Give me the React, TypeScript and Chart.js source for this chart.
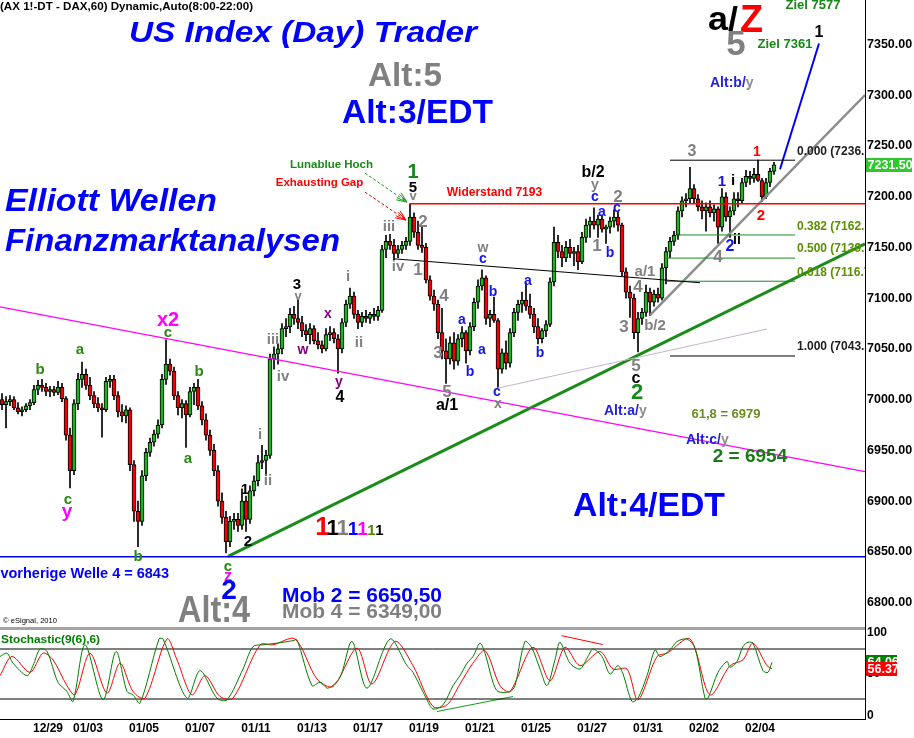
import React, { useEffect, useRef } from 'react';
import { Chart, registerables } from 'chart.js';

Chart.register(...registerables);

const FONT = '"Liberation Sans", Arial, Helvetica, sans-serif';

// ---------- x axis (trading-hour index, hourly bars 8:00-22:00, counted from 27 Dec 12:00) ----------
const dateLabels = ['12/29', '01/03', '01/05', '01/07', '01/11', '01/13', '01/17', '01/19', '01/21', '01/25', '01/27', '01/31', '02/02', '02/04'];
const dateHours = [24, 44, 72, 100, 128, 156, 184, 212, 240, 268, 296, 324, 352, 380];
const HOUR_MAX = 432.5;

// ---------- y axes ----------
const PRICE_MIN = 6773.9;
const PRICE_MAX = 7393.9;
const priceTicks = [6800, 6850, 6900, 6950, 7000, 7050, 7100, 7150, 7200, 7250, 7300, 7350];
const STOCH_MIN = -4;
const STOCH_MAX = 104;
const stochTicks = [0, 50, 100];

// ---------- 2-hour candles (FDAX) ----------
const opens = [
  7000, 6995, 6998, 7000, 6992, 6988, 6990, 6994, 6997, 7010,
  7014, 7012, 7008, 7010, 7007, 7012, 7001, 6965, 6930, 6996,
  7020, 7025, 7014, 7004, 6996, 6992, 6990, 7018, 7020, 7004,
  6988, 6984, 6990, 6936, 6890, 6880, 6925, 6948, 6958, 6966,
  6975, 7020, 7035, 7028, 7004, 6992, 6996, 6985, 7008, 7012,
  6994, 6980, 6965, 6950, 6930, 6900, 6884, 6860, 6880, 6882,
  6876, 6900, 6882, 6910, 6920, 6938, 6940, 6945, 7040, 7045,
  7050, 7070, 7072, 7084, 7080, 7076, 7068, 7064, 7070, 7058,
  7054, 7050, 7064, 7066, 7060, 7050, 7076, 7094, 7102, 7084,
  7076, 7082, 7080, 7084, 7082, 7088, 7148, 7156, 7152, 7144,
  7148, 7152, 7156, 7180, 7165, 7152, 7150, 7118, 7102, 7094,
  7066, 7048, 7040, 7056, 7038, 7060, 7066, 7048, 7072, 7096,
  7112, 7120, 7080, 7084, 7078, 7030, 7046, 7036, 7066, 7086,
  7094, 7098, 7092, 7084, 7072, 7060, 7068, 7074, 7116, 7155,
  7146, 7140, 7150, 7144, 7146, 7136, 7160, 7172, 7176, 7172,
  7178, 7168, 7170, 7176, 7180, 7172, 7126, 7106, 7100, 7066,
  7080, 7086, 7106, 7096, 7104, 7100, 7130, 7146, 7156, 7162,
  7186, 7196, 7198, 7208, 7198, 7190, 7186, 7190, 7184, 7188,
  7170, 7200, 7180, 7186, 7198, 7196, 7214, 7220, 7218, 7222,
  7216, 7200, 7214, 7225,
];
const highs = [
  7006, 7003, 7004, 7003, 6997, 6993, 6996, 7000, 7014, 7019,
  7020, 7016, 7013, 7013, 7018, 7016, 7003, 6972, 7000, 7026,
  7037, 7030, 7022, 7008, 7002, 6996, 7022, 7024, 7024, 7008,
  6995, 6994, 6992, 6940, 6900, 6930, 6952, 6962, 6970, 6980,
  7025, 7059, 7040, 7032, 7008, 7000, 6999, 7012, 7016, 7020,
  6998, 6986, 6970, 6956, 6935, 6908, 6890, 6885, 6888, 6888,
  6912, 6905, 6915, 6925, 6945, 6955, 6950, 7045, 7052, 7055,
  7075, 7080, 7090, 7092, 7098, 7082, 7074, 7075, 7073, 7066,
  7058, 7070, 7072, 7070, 7064, 7080, 7098, 7110, 7106, 7088,
  7086, 7088, 7086, 7090, 7092, 7152, 7162, 7163, 7158, 7152,
  7156, 7160, 7193, 7184, 7176, 7170, 7154, 7122, 7108, 7098,
  7090, 7060, 7062, 7066, 7064, 7072, 7068, 7076, 7100, 7118,
  7128, 7122, 7088, 7101, 7080, 7050, 7058, 7070, 7090, 7098,
  7106, 7115, 7104, 7090, 7080, 7070, 7078, 7120, 7170, 7162,
  7152, 7156, 7158, 7150, 7152, 7165, 7178, 7180, 7189, 7182,
  7182, 7172, 7180, 7187, 7185, 7174, 7130, 7112, 7104, 7086,
  7090, 7113, 7110, 7108, 7110, 7134, 7150, 7160, 7166, 7190,
  7200, 7203, 7229, 7212, 7202, 7196, 7194, 7196, 7192, 7190,
  7208, 7204, 7190, 7204, 7204, 7218, 7226, 7225, 7228, 7236,
  7218, 7218, 7228, 7234,
];
const lows = [
  6990, 6972, 6994, 6990, 6986, 6984, 6988, 6990, 6995, 7005,
  7008, 7004, 7003, 7004, 7005, 6998, 6960, 6913, 6926, 6990,
  7012, 7010, 7000, 6992, 6988, 6963, 6988, 7012, 7000, 6983,
  6978, 6977, 6930, 6880, 6855, 6876, 6920, 6944, 6954, 6962,
  6972, 7015, 7024, 7000, 6985, 6982, 6953, 6983, 6995, 6990,
  6975, 6960, 6945, 6925, 6895, 6878, 6849, 6855, 6872, 6870,
  6872, 6870, 6878, 6905, 6915, 6932, 6925, 6942, 7030, 7035,
  7045, 7062, 7066, 7074, 7070, 7062, 7058, 7055, 7055, 7050,
  7046, 7048, 7058, 7056, 7026, 7046, 7072, 7090, 7080, 7070,
  7072, 7076, 7075, 7078, 7078, 7086, 7140, 7148, 7138, 7140,
  7144, 7148, 7152, 7160, 7148, 7145, 7115, 7098, 7088, 7060,
  7040, 7016, 7035, 7030, 7034, 7052, 7036, 7044, 7068, 7090,
  7108, 7074, 7072, 7076, 7012, 7026, 7030, 7032, 7062, 7078,
  7086, 7088, 7080, 7066, 7055, 7056, 7062, 7072, 7112, 7140,
  7131, 7136, 7140, 7132, 7128, 7134, 7155, 7160, 7168, 7160,
  7165, 7154, 7164, 7170, 7166, 7122, 7100, 7081, 7060, 7047,
  7074, 7082, 7083, 7092, 7096, 7098, 7114, 7140, 7152, 7158,
  7180, 7190, 7194, 7194, 7186, 7178, 7166, 7180, 7176, 7154,
  7166, 7176, 7160, 7182, 7190, 7194, 7210, 7212, 7214, 7215,
  7195, 7198, 7210, 7222,
];
const closes = [
  6995, 6998, 7000, 6992, 6988, 6990, 6994, 6997, 7010, 7014,
  7012, 7008, 7010, 7007, 7012, 7001, 6965, 6930, 6996, 7020,
  7025, 7014, 7004, 6996, 6992, 6990, 7018, 7020, 7004, 6988,
  6984, 6990, 6936, 6890, 6880, 6925, 6948, 6958, 6966, 6975,
  7020, 7035, 7028, 7004, 6992, 6996, 6985, 7008, 7012, 6994,
  6980, 6965, 6950, 6930, 6900, 6884, 6860, 6880, 6882, 6876,
  6900, 6882, 6910, 6920, 6938, 6940, 6945, 7040, 7045, 7050,
  7070, 7072, 7084, 7080, 7076, 7068, 7064, 7070, 7058, 7054,
  7050, 7064, 7066, 7060, 7050, 7076, 7094, 7102, 7084, 7076,
  7082, 7080, 7084, 7082, 7088, 7148, 7156, 7152, 7144, 7148,
  7152, 7156, 7180, 7165, 7152, 7150, 7118, 7102, 7094, 7066,
  7048, 7040, 7056, 7038, 7060, 7066, 7048, 7072, 7096, 7112,
  7120, 7080, 7084, 7078, 7030, 7046, 7036, 7066, 7086, 7094,
  7098, 7092, 7084, 7072, 7060, 7068, 7074, 7116, 7155, 7146,
  7140, 7150, 7144, 7146, 7136, 7160, 7172, 7176, 7172, 7178,
  7168, 7170, 7176, 7180, 7172, 7126, 7106, 7100, 7066, 7080,
  7086, 7106, 7096, 7104, 7100, 7130, 7146, 7156, 7162, 7186,
  7196, 7198, 7208, 7198, 7190, 7186, 7190, 7184, 7188, 7170,
  7200, 7180, 7186, 7198, 7196, 7214, 7220, 7218, 7222, 7216,
  7200, 7214, 7225, 7231.5,
];

// ---------- Stochastic(9(6),6) ----------
const stochKHours = [
  0, 3.5, 6.5, 13.5, 16.5, 20, 23.5, 29, 33.5, 36.5,
  42.5, 51.5, 58, 63.5, 66.5, 70, 79.5, 81.5, 93.5, 100,
  108.5, 113.5, 121.5, 126.5, 131.5, 138.5, 146.5, 148.5, 156, 160,
  164, 170, 176, 183.5, 195, 203.5, 206.5, 213.5, 216.5, 221.5,
  226.5, 230, 233.5, 236.5, 240, 242.5, 246.5, 249, 255, 257.5,
  262.5, 266, 270, 273.5, 277.5, 280, 285, 290, 294, 296.5,
  301, 305, 309, 311.5, 316, 319, 323.5, 327.5, 330, 335,
  338.5, 343.5, 347.5, 352.5, 354, 359, 363.5, 365, 368.5, 371.5,
  374, 376.5, 381.5, 384, 386,
];
const stochK = [
  71, 75, 63, 48, 60, 80, 77, 40, 29, 17,
  85, 19, 77, 29, 25, 15, 92, 92, 21, 54,
  21, 19, 56, 83, 85, 87, 90, 91, 36, 40,
  33, 46, 89, 33, 92, 60, 52, 19, 8, 13,
  36, 48, 63, 71, 87, 75, 40, 29, 29, 36,
  89, 81, 56, 36, 67, 88, 63, 56, 71, 80,
  71, 50, 60, 50, 17, 21, 48, 79, 71, 79,
  89, 92, 81, 21, 21, 52, 65, 58, 65, 83,
  88, 87, 54, 52, 64.06,
];
const stochDHours = [
  0, 6, 15, 21.5, 26.5, 33.5, 37.5, 45, 53.5, 60,
  66.5, 72.5, 83.5, 88.5, 96, 102.5, 110, 116.5, 130, 136.5,
  147.5, 158.5, 166.5, 178.5, 186, 197.5, 206.5, 216.5, 223.5, 230,
  236.5, 242.5, 250, 255, 266.5, 275, 282.5, 290, 300, 306.5,
  313.5, 319, 328.5, 333.5, 345, 355, 365, 371.5, 376.5, 383.5,
  386,
];
const stochD = [
  48, 71, 52, 75, 67, 36, 25, 75, 27, 63,
  29, 21, 92, 67, 25, 48, 23, 21, 85, 85,
  92, 44, 35, 81, 38, 89, 60, 11, 13, 38,
  63, 78, 36, 29, 82, 42, 82, 60, 77, 56,
  56, 19, 71, 75, 92, 25, 60, 67, 87, 60,
  56.37,
];
const stochUpper = [[0, 80], [HOUR_MAX, 80]];
const stochLower = [[0, 20], [HOUR_MAX, 20]];
const stochGreenDiv = [[218.5, 5], [256.5, 23]];
const stochRedDiv = [[280.8, 96], [301.3, 85.4]];

// ---------- drawn lines (hour, price) ----------
const prevWave4Line = [[0, 6845], [HOUR_MAX, 6845]];
const magentaLine = [[0, 7091.5], [HOUR_MAX, 6929]];
const resistanceLine = [[205, 7193], [HOUR_MAX, 7193]];
const necklineLine = [[197.5, 7138.7], [350, 7115.2]];
const lightLine = [[249, 7011.4], [383.5, 7069.6]];
const greenTrend = [[114, 6845.5], [HOUR_MAX, 7153.5]];
const grayTrend = [[325, 7083.4], [HOUR_MAX, 7300.2]];
const blueTrend = [[390, 7227], [409.5, 7351]];
const fib000 = [[335, 7236], [397.5, 7236]];
const fib382 = [[339, 7162.3], [397.5, 7162.3]];
const fib500 = [[333.5, 7139.5], [397.5, 7139.5]];
const fib618 = [[333.5, 7116.7], [397.5, 7116.7]];
const fib100 = [[335, 7043], [397.5, 7043]];
const greenArrow = [[182.5, 7223.3], [203.5, 7194.7]];
const redArrow = [[182.5, 7204.6], [203, 7177]];

// ---------- annotation texts ----------
const COL: Record<string, string> = {
  G: '#2a8a10', DG: '#148a14', K: '#000000', GR: '#808080', B: '#1414e6',
  BB: '#0000ff', P: '#800080', M: '#ff00ff', R: '#ff0000',
};
// [text, hour, price, colour, size]
const waveLabels: [string, number, number, string, number][] = [
  ['b', 20, 7029, 'G', 15], ['a', 40, 7049, 'G', 15], ['c', 34, 6901, 'G', 15], ['y', 33.5, 6889, 'M', 19],
  ['x2', 84, 7078, 'M', 20], ['c', 84, 7066, 'G', 15], ['b', 69, 6845, 'G', 15], ['a', 94, 6942, 'G', 15],
  ['b', 99.5, 7027, 'G', 15], ['c', 114, 6835, 'G', 15], ['z', 114, 6826, 'M', 16], ['2', 114.5, 6811, 'BB', 28],
  ['1', 122.5, 6911, 'K', 15], ['2', 124, 6860, 'K', 15], ['i', 130, 6965, 'GR', 15], ['ii', 134, 6920, 'GR', 15],
  ['iii', 136.5, 7059, 'GR', 15], ['iv', 141.5, 7022, 'GR', 15], ['3', 148.5, 7113, 'K', 15], ['v', 149, 7102, 'GR', 13],
  ['w', 151.5, 7049, 'P', 14], ['x', 164, 7084, 'P', 14], ['y', 169.5, 7017, 'P', 14], ['4', 170, 7002, 'K', 16],
  ['i', 174, 7121, 'GR', 15], ['ii', 179.5, 7056, 'GR', 15], ['iii', 194.5, 7170, 'GR', 15], ['iv', 199, 7131, 'GR', 15],
  ['1', 206.5, 7224, 'DG', 20], ['5', 206.5, 7209, 'K', 15], ['v', 206.5, 7200, 'GR', 13], ['2', 211.5, 7175, 'GR', 17],
  ['1', 209, 7127, 'GR', 17], ['4', 222, 7102, 'GR', 17], ['3', 219, 7046, 'GR', 17], ['5', 223.5, 7007, 'GR', 17],
  ['a/1', 223.5, 6994.5, 'K', 16], ['a', 231, 7078, 'B', 14], ['b', 235, 7027, 'B', 14], ['a', 241, 7049, 'B', 14],
  ['w', 241.5, 7149, 'GR', 14], ['c', 241.5, 7138.5, 'B', 14], ['b', 246.5, 7106, 'B', 14], ['c', 248.5, 7007, 'B', 14],
  ['x', 249, 6996, 'GR', 14], ['a', 264, 7117, 'B', 14], ['b', 270, 7046, 'B', 14], ['b/2', 296.5, 7224, 'K', 16],
  ['y', 297.5, 7211, 'GR', 14], ['c', 297.5, 7200, 'B', 14], ['1', 298.5, 7151, 'GR', 17], ['a', 301, 7185, 'B', 14],
  ['b', 305, 7144, 'B', 14], ['c', 308.5, 7189, 'B', 14], ['2', 309, 7199, 'GR', 17], ['3', 312, 7071, 'GR', 17],
  ['4', 319, 7111, 'GR', 17], ['a/1', 322.5, 7126, 'GR', 15], ['b/2', 327.5, 7073, 'GR', 15], ['5', 318, 7033, 'GR', 17],
  ['c', 318, 7021, 'K', 16], ['2', 318.5, 7007, 'DG', 22], ['3', 346, 7244, 'GR', 16], ['1', 361, 7214.5, 'B', 15],
  ['i', 366.5, 7215.5, 'K', 15], ['2', 365, 7150.5, 'B', 16], ['ii', 368.5, 7157, 'K', 14], ['4', 359, 7140.5, 'GR', 17],
  ['1', 378.5, 7244, 'R', 14], ['2', 380.5, 7181, 'R', 15], ['1', 409.5, 7362, 'K', 16],
];
// [text, hour, price, font, colour, align]
const priceTexts: [string, number, number, string, string, CanvasTextAlign][] = [
  ['Widerstand 7193', 247.25, 7203.6, 'bold 12px', '#ff0000', 'center'],
  ['Lunablue Hoch', 165.75, 7231, 'bold 11.5px', '#1a8a1a', 'center'],
  ['Exhausting Gap', 159.75, 7213.5, 'bold 11.5px', '#ff0000', 'center'],
  ['61,8 = 6979', 363, 6985, 'bold 13px', '#6b8e23', 'center'],
  ['2 = 6954', 375, 6943.5, 'bold 19px', '#1a7a1a', 'center'],
  ['0.000 (7236.00)', 398.5, 7244, 'bold 12px', '#202020', 'left'],
  ['0.382 (7162.27)', 398.5, 7170, 'bold 12px', '#5a9000', 'left'],
  ['0.500 (7139.50)', 398.5, 7148.4, 'bold 12px', '#5a9000', 'left'],
  ['0.618 (7116.73)', 398.5, 7124.8, 'bold 12px', '#5a9000', 'left'],
  ['1.000 (7043.00)', 398.5, 7051.8, 'bold 12px', '#202020', 'left'],
];

type PT = { t: string; x: number; y: number; f: string; c: string; a?: CanvasTextAlign; b?: CanvasTextBaseline; w?: number };
const pixelTexts: PT[] = [
  { t: '(AX 1!-DT - DAX,60) Dynamic,Auto(8:00-22:00)', x: 0, y: 7, f: 'bold 11.5px', c: '#000', a: 'left', w: 253 },
  { t: 'US Index (Day) Trader', x: 303, y: 42, f: 'italic bold 30px', c: '#0000ff', b: 'alphabetic', w: 348 },
  { t: 'Alt:5', x: 405, y: 86, f: 'bold 34px', c: '#808080', b: 'alphabetic', w: 74 },
  { t: 'Alt:3/EDT', x: 417.5, y: 123, f: 'bold 34px', c: '#0000ff', b: 'alphabetic', w: 151 },
  { t: 'Elliott Wellen', x: 5, y: 211, f: 'italic bold 32px', c: '#0000ff', a: 'left', b: 'alphabetic', w: 212 },
  { t: 'Finanzmarktanalysen', x: 5, y: 251, f: 'italic bold 32px', c: '#0000ff', a: 'left', b: 'alphabetic', w: 335 },
  { t: 'a/', x: 708, y: 30, f: 'bold 34px', c: '#000', a: 'left', b: 'alphabetic', w: 30 },
  { t: 'Z', x: 740, y: 31.5, f: 'bold 38px', c: '#ff0000', a: 'left', b: 'alphabetic', w: 23 },
  { t: '5', x: 736, y: 55, f: 'bold 35px', c: '#808080', b: 'alphabetic' },
  { t: 'Ziel 7577', x: 813, y: 9, f: 'bold 13px', c: '#168816', b: 'alphabetic' },
  { t: 'Ziel 7361', x: 785, y: 47.5, f: 'bold 13px', c: '#168816', b: 'alphabetic' },
  { t: 'Alt:4/EDT', x: 649, y: 516, f: 'bold 34px', c: '#0000ff', b: 'alphabetic', w: 152 },
  { t: 'Alt:4', x: 214, y: 622, f: 'bold 36px', c: '#808080', b: 'alphabetic', w: 72 },
  { t: 'Mob 2 = 6650,50', x: 282, y: 601.5, f: 'bold 21px', c: '#0000ff', a: 'left', b: 'alphabetic', w: 160 },
  { t: 'Mob 4 = 6349,00', x: 282, y: 618, f: 'bold 21px', c: '#808080', a: 'left', b: 'alphabetic', w: 160 },
  { t: 'vorherige Welle 4 = 6843', x: 169, y: 578, f: 'bold 14.5px', c: '#0000ff', a: 'right', b: 'alphabetic' },
  { t: '\u00a9 eSignal, 2010', x: 3, y: 621, f: '8px', c: '#000', a: 'left', w: 54 },
  { t: 'Stochastic(9(6),6)', x: 1, y: 640, f: 'bold 11.5px', c: '#008000', a: 'left', w: 99 },
];
// [blue part, gray part, left x, baseline y]
const altTexts: [string, string, number, number][] = [
  ['Alt:b/', 'y', 710, 87], ['Alt:a/', 'y', 604, 414.5], ['Alt:c/', 'y', 686, 444],
];
// [centre x, size, colour]
const onesRow: [number, number, string][] = [
  [322.5, 26, '#ff0000'], [332.5, 22, '#000'], [342.5, 22, '#808080'], [353, 19, '#0000ff'],
  [362.5, 19, '#ff00ff'], [371.5, 15, '#4a8a00'], [379.5, 15, '#000'],
];

function drawText(ctx: CanvasRenderingContext2D, t: string, x: number, y: number, f: string, color: string,
  align: CanvasTextAlign = 'center', base: CanvasTextBaseline = 'middle', w?: number) {
  ctx.save();
  ctx.font = `${f} ${FONT}`;
  ctx.fillStyle = color;
  ctx.textAlign = align;
  ctx.textBaseline = base;
  ctx.translate(x, y);
  if (w) {
    const m = ctx.measureText(t).width;
    if (m > 0) ctx.scale(w / m, 1);
  }
  ctx.fillText(t, 0, 0);
  ctx.restore();
}

const overlay = {
  id: 'overlay',
  beforeDraw(chart: any) {
    const c = chart.ctx;
    c.save();
    c.fillStyle = '#ffffff';
    c.fillRect(0, 0, chart.width, chart.height);
    c.restore();
  },
  afterDatasetsDraw(chart: any) {
    const ctx: CanvasRenderingContext2D = chart.ctx;
    const xs = chart.scales.x;
    const ys = chart.scales.y;
    const area = chart.chartArea;
    const X = (h: number) => xs.getPixelForValue(h);
    const Y = (p: number) => ys.getPixelForValue(p);

    // pane separator
    ctx.save();
    ctx.fillStyle = '#a4a4a4';
    ctx.fillRect(area.left, ys.bottom - 2, area.right - area.left, 3);
    ctx.restore();

    ctx.save();
    ctx.beginPath();
    ctx.rect(area.left, area.top, area.right - area.left, ys.bottom - 2 - area.top);
    ctx.clip();

    const arrow = (pts: number[][], color: string) => {
      const x1 = X(pts[0][0]), y1 = Y(pts[0][1]), x2 = X(pts[1][0]), y2 = Y(pts[1][1]);
      ctx.save();
      ctx.strokeStyle = color;
      ctx.lineWidth = 1;
      ctx.setLineDash([3, 2]);
      ctx.beginPath(); ctx.moveTo(x1, y1); ctx.lineTo(x2, y2); ctx.stroke();
      ctx.setLineDash([]);
      const a = Math.atan2(y2 - y1, x2 - x1);
      for (const d of [-0.4, -0.2, 0.2, 0.4]) {
        ctx.beginPath();
        ctx.moveTo(x2, y2);
        ctx.lineTo(x2 - 11 * Math.cos(a + d), y2 - 11 * Math.sin(a + d));
        ctx.stroke();
      }
      ctx.restore();
    };
    arrow(greenArrow, '#1a9a1a');
    arrow(redArrow, '#ff0000');

    for (const [t, h, p, f, c, al] of priceTexts) drawText(ctx, t, X(h), Y(p), f, c, al);
    for (const [t, h, p, c, s] of waveLabels) drawText(ctx, t, X(h), Y(p), `bold ${s}px`, COL[c]);
    ctx.restore();

    for (const p of pixelTexts) drawText(ctx, p.t, p.x, p.y, p.f, p.c, p.a || 'center', p.b || 'middle', p.w);
    for (const [a, b, x, y] of altTexts) {
      ctx.save();
      ctx.font = `bold 14px ${FONT}`;
      const wa = ctx.measureText(a).width;
      ctx.restore();
      drawText(ctx, a, x, y, 'bold 14px', '#2222dd', 'left', 'alphabetic');
      drawText(ctx, b, x + wa, y, 'bold 14px', '#8c8c8c', 'left', 'alphabetic');
    }
    for (const [x, s, c] of onesRow) drawText(ctx, '1', x, 535, `bold ${s}px`, c, 'center', 'alphabetic');
  },
  afterDraw(chart: any) {
    const ctx: CanvasRenderingContext2D = chart.ctx;
    const ys = chart.scales.y;
    const ss = chart.scales.ys;
    const x0 = chart.chartArea.right + 1;
    const tag = (y: number, txt: string, bg: string, w: number) => {
      ctx.save();
      ctx.fillStyle = bg;
      ctx.fillRect(x0, Math.round(y) - 7, w, 14);
      ctx.fillStyle = '#ffffff';
      ctx.font = `bold 12.5px ${FONT}`;
      ctx.textAlign = 'left';
      ctx.textBaseline = 'middle';
      ctx.fillText(txt, x0 + 1.5, Math.round(y) + 0.5);
      ctx.restore();
    };
    const lastClose = closes[closes.length - 1];
    tag(ys.getPixelForValue(lastClose), lastClose.toFixed(2), '#2ec82e', 46);
    const k = stochK[stochK.length - 1];
    const d = stochD[stochD.length - 1];
    tag(ss.getPixelForValue(k), k.toFixed(2), '#008000', 31);
    tag(ss.getPixelForValue(d), d.toFixed(2), '#ff0000', 31);
  },
};

const toPts = (a: number[][]) => a.map(([x, y]) => ({ x, y }));
const lineDs = (a: number[][], color: string, width: number, axis = 'y') => ({
  type: 'line' as const,
  data: toPts(a),
  borderColor: color,
  borderWidth: width,
  pointRadius: 0,
  fill: false,
  tension: 0,
  yAxisID: axis,
  order: -1,
});

function buildConfig(): any {
  const candleX = closes.map((_, i) => 2 * i + 1);
  const bodyColors = closes.map((c, i) => (c >= opens[i] ? '#1cb41c' : '#f00000'));
  const axisFont = { family: FONT, size: 12.5, weight: 'bold' as const };
  return {
    type: 'bar',
    data: {
      datasets: [
        {
          type: 'bar', label: 'body',
          data: candleX.map((x, i) => ({ x, y: [opens[i], closes[i]] })),
          backgroundColor: bodyColors, borderColor: '#000', borderWidth: 1, borderSkipped: false,
          barThickness: 4, grouped: false, yAxisID: 'y', order: 1,
        },
        {
          type: 'bar', label: 'wick',
          data: candleX.map((x, i) => ({ x, y: [lows[i], highs[i]] })),
          backgroundColor: '#000', borderWidth: 0, barThickness: 1, grouped: false, yAxisID: 'y', order: 2,
        },
        lineDs(prevWave4Line, '#0000ff', 1.5),
        lineDs(magentaLine, '#ff00ff', 1.2),
        lineDs(resistanceLine, '#ff0000', 1.5),
        lineDs(necklineLine, '#000000', 1),
        lineDs(lightLine, '#c8b4c8', 1),
        lineDs(fib000, '#000000', 1),
        lineDs(fib382, '#1a8a1a', 1),
        lineDs(fib500, '#1a8a1a', 1),
        lineDs(fib618, '#1a8a1a', 1),
        lineDs(fib100, '#000000', 1),
        lineDs(greenTrend, '#1a8c1a', 3),
        lineDs(grayTrend, '#8c8c8c', 2.5),
        lineDs(blueTrend, '#0000ff', 2),
        lineDs(stochUpper, '#000000', 1, 'ys'),
        lineDs(stochLower, '#000000', 1, 'ys'),
        lineDs(stochGreenDiv, '#1a9a1a', 1, 'ys'),
        lineDs(stochRedDiv, '#ff0000', 1, 'ys'),
        {
          type: 'line', label: '%D', data: stochDHours.map((x, i) => ({ x, y: stochD[i] })),
          borderColor: '#ff0000', borderWidth: 1, pointRadius: 0, tension: 0.3, yAxisID: 'ys', order: -2,
        },
        {
          type: 'line', label: '%K', data: stochKHours.map((x, i) => ({ x, y: stochK[i] })),
          borderColor: '#008000', borderWidth: 1, pointRadius: 0, tension: 0.3, yAxisID: 'ys', order: -3,
        },
      ],
    },
    options: {
      responsive: false,
      animation: false,
      devicePixelRatio: 1,
      events: [],
      layout: { padding: 0 },
      plugins: { legend: { display: false }, tooltip: { enabled: false }, title: { display: false } },
      scales: {
        x: {
          type: 'linear', min: 0, max: HOUR_MAX, offset: false,
          grid: { display: false, drawTicks: false },
          border: { display: true, color: '#000', width: 1 },
          ticks: {
            autoSkip: false, maxRotation: 0, minRotation: 0, padding: 2, color: '#000',
            font: { family: FONT, size: 12, weight: 'bold' },
            callback: (v: any) => {
              const k = dateHours.indexOf(Number(v));
              return k >= 0 ? dateLabels[k] : '';
            },
          },
          afterBuildTicks: (s: any) => { s.ticks = dateHours.map((v) => ({ value: v })); },
          afterFit: (s: any) => { s.height = 19; s.paddingLeft = 0; s.paddingRight = 0; },
        },
        y: {
          type: 'linear', position: 'right', stack: 'panes', stackWeight: 629,
          min: PRICE_MIN, max: PRICE_MAX, beginAtZero: false, offset: false,
          grid: { display: false, drawTicks: false },
          border: { display: true, color: '#000', width: 1 },
          ticks: { padding: 2, color: '#000', font: axisFont, callback: (v: any) => Number(v).toFixed(2) },
          afterBuildTicks: (s: any) => { s.ticks = priceTicks.map((v) => ({ value: v })); },
          afterFit: (s: any) => { s.width = 49; s.paddingTop = 0; s.paddingBottom = 0; },
        },
        ys: {
          type: 'linear', position: 'right', stack: 'panes', stackWeight: 90,
          min: STOCH_MIN, max: STOCH_MAX, beginAtZero: false, offset: false,
          grid: { display: false, drawTicks: false },
          border: { display: true, color: '#000', width: 1 },
          ticks: { padding: 2, color: '#000', font: { family: FONT, size: 12, weight: 'bold' }, callback: (v: any) => String(v) },
          afterBuildTicks: (s: any) => { s.ticks = stochTicks.map((v) => ({ value: v })); },
          afterFit: (s: any) => { s.width = 49; s.paddingTop = 0; s.paddingBottom = 0; },
        },
      },
    },
    plugins: [overlay],
  };
}

export default function App() {
  const ref = useRef<HTMLCanvasElement | null>(null);
  useEffect(() => {
    const canvas = ref.current;
    if (!canvas) return;
    Chart.defaults.font.family = FONT;
    const chart = new Chart(canvas, buildConfig());
    return () => chart.destroy();
  }, []);
  return (
    <div style={{ position: 'fixed', left: 0, top: 0, width: 914, height: 738, background: '#ffffff' }}>
      <canvas ref={ref} width={914} height={738} style={{ display: 'block', width: 914, height: 738 }} />
    </div>
  );
}
